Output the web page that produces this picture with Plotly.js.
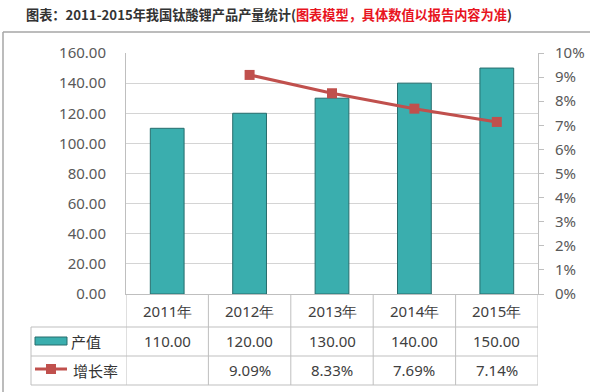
<!DOCTYPE html>
<html><head><meta charset="utf-8">
<script src="https://cdn.plot.ly/plotly-3.0.1.min.js"></script>
<style>html,body{margin:0;padding:0;background:#fff}#chart{width:590px;height:392px}</style>
</head><body><div id="chart"></div>
<script>
const years = ['2011年','2012年','2013年','2014年','2015年'];
const output = [110, 120, 130, 140, 150];
const growth = [null, 9.09, 8.33, 7.69, 7.14];
const seriesNames = ['产值', '增长率'];

const W = 590, Hh = 392, L = 126, R = 52, T = 53, B = 98;
const PW = W - L - R, PH = Hh - T - B;
const X = q => (q - L) / PW;
const Y = p => (Hh - B - p) / PH;

const teal = '#3AAEAE', tealLine = '#276D6D', red = '#C0504D', grid = '#D4D4D4', tbl = '#BFBFBF';
const numFont = {family: 'Noto Sans, sans-serif', size: 15, color: '#595959'};
const cellFont = {family: 'Noto Sans, sans-serif', size: 15, color: '#404040'};
const cjkFont = {family: 'Noto Sans CJK SC, sans-serif', size: 15, color: '#333333'};

const traces = [
  {type: 'bar', x: years, y: output, name: seriesNames[0], width: 0.41,
   marker: {color: teal, line: {color: tealLine, width: 1}}, showlegend: false, hoverinfo: 'skip'},
  {type: 'scatter', mode: 'lines+markers', x: years, y: growth, yaxis: 'y2', name: seriesNames[1],
   line: {color: red, width: 3}, marker: {symbol: 'square', size: 10, color: red},
   showlegend: false, hoverinfo: 'skip', connectgaps: false}
];

const shapes = [];
const ln = (o) => shapes.push(Object.assign({type: 'line', layer: 'below', line: {color: tbl, width: 1}}, o));
for (let i = 0; i <= years.length; i++) {
  ln({xref: 'x', yref: 'paper', x0: i - 0.5, x1: i - 0.5, y0: 0, y1: Y(385)});
}
[327, 356, 385].forEach(p => ln({xref: 'paper', yref: 'paper', x0: X(31), x1: 1, y0: Y(p), y1: Y(p)}));
ln({xref: 'paper', yref: 'paper', x0: X(31), x1: X(31), y0: Y(327), y1: Y(385)});
ln({xref: 'paper', yref: 'paper', x0: X(3), x1: X(600), y0: Y(32), y1: Y(32), line: {color: '#A6A6A6', width: 1.5}});
ln({xref: 'paper', yref: 'paper', x0: X(3), x1: X(3), y0: Y(32), y1: Y(400), line: {color: '#A6A6A6', width: 1.5}});
shapes.push({type: 'rect', xref: 'paper', yref: 'paper', x0: X(35), x1: X(67), y0: Y(345), y1: Y(337),
  fillcolor: teal, line: {color: tealLine, width: 1}});
shapes.push({type: 'line', xref: 'paper', yref: 'paper', x0: X(35), x1: X(67), y0: Y(369), y1: Y(369),
  line: {color: red, width: 3}});
shapes.push({type: 'rect', xref: 'paper', yref: 'paper', x0: X(46), x1: X(56), y0: Y(374), y1: Y(364),
  fillcolor: red, line: {color: red, width: 0}});

const annotations = [];
years.forEach((yr, i) => {
  annotations.push({xref: 'x', yref: 'paper', x: yr, y: Y(311), text: yr, showarrow: false, font: cellFont, yanchor: 'middle'});
  annotations.push({xref: 'x', yref: 'paper', x: yr, y: Y(341), text: output[i].toFixed(2), showarrow: false, font: cellFont, yanchor: 'middle'});
  if (growth[i] !== null)
    annotations.push({xref: 'x', yref: 'paper', x: yr, y: Y(370), text: growth[i].toFixed(2) + '%', showarrow: false, font: cellFont, yanchor: 'middle'});
});
annotations.push({xref: 'paper', yref: 'paper', x: X(69), y: Y(341), xanchor: 'left', yanchor: 'middle', text: seriesNames[0], showarrow: false, font: cjkFont});
annotations.push({xref: 'paper', yref: 'paper', x: X(71), y: Y(370), xanchor: 'left', yanchor: 'middle', text: seriesNames[1], showarrow: false, font: cjkFont});
annotations.push({xref: 'paper', yref: 'paper', x: X(24), y: Y(15), xanchor: 'left', yanchor: 'middle', showarrow: false,
  text: '图表：2011-2015年我国钛酸锂产品产量统计(<span style="color:#E8141E">图表模型，具体数值以报告内容为准</span>)',
  font: {family: 'Noto Sans CJK SC, sans-serif', size: 13.2, color: '#333333', weight: 'bold'}});

const layout = {
  width: W, height: Hh,
  margin: {l: L, r: R, t: T, b: B, pad: 0},
  paper_bgcolor: '#fff', plot_bgcolor: '#fff',
  showlegend: false,
  xaxis: {type: 'category', range: [-0.5, 4.5], showticklabels: false, ticks: '', showgrid: false,
    showline: true, linecolor: tbl, linewidth: 1, zeroline: false, fixedrange: true},
  yaxis: {range: [0, 160], dtick: 20, tickformat: '.2f', tickfont: numFont, showgrid: true, gridcolor: grid,
    showline: true, linecolor: tbl, linewidth: 1, zeroline: false, ticks: '', ticklabelstandoff: 16, fixedrange: true},
  yaxis2: {overlaying: 'y', side: 'right', range: [0, 10], dtick: 1, ticksuffix: '%', tickfont: numFont,
    showgrid: false, zeroline: false, showline: true, linecolor: tbl, linewidth: 1,
    ticks: 'outside', ticklen: 5, tickcolor: tbl, ticklabelstandoff: 8, fixedrange: true},
  shapes: shapes, annotations: annotations, bargap: 0.59
};
Plotly.newPlot('chart', traces, layout, {staticPlot: true, displayModeBar: false});
</script></body></html>
